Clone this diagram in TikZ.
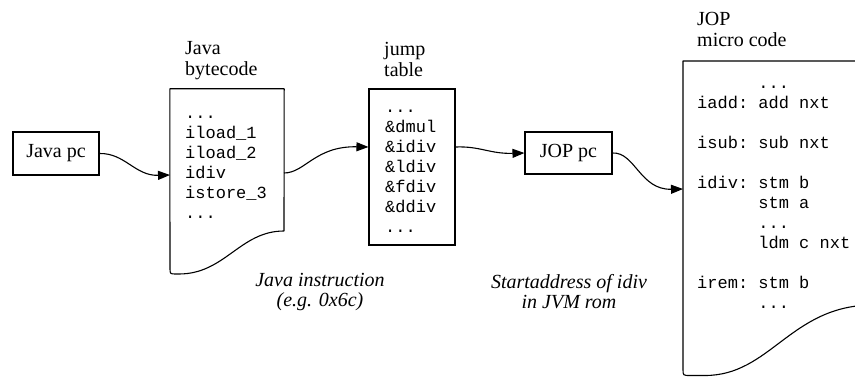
\documentclass[tikz,border=0pt]{standalone}
\usepackage{fontspec}
\setmainfont{Liberation Serif}
\setmonofont{Liberation Mono}
\usetikzlibrary{arrows.meta}
\tikzset{
  lw/.style={line width=1.1pt},
  lbl/.style={font=\fontsize{20}{21}\selectfont, align=left, inner sep=0pt, anchor=north west},
  code/.style={font=\ttfamily\fontsize{17}{20}\selectfont, align=left, inner sep=0pt, anchor=north west},
  pcbox/.style={draw, lw, inner sep=0pt, font=\fontsize{20}{24}\selectfont},
  shapebox/.style={draw=none, inner sep=0pt},
  conn/.style={lw, -{Triangle[length=12pt,width=9pt]}},
  ital/.style={font=\itshape\fontsize{20}{20}\selectfont, align=center, inner sep=0pt, anchor=north}
}
\newcommand{\ind}{\phantom{iadd:~}}
\begin{document}
\begin{tikzpicture}[x=1pt,y=-1pt]
\clip (0,0) rectangle (855,377);
% Java pc
\node[pcbox, minimum width=86pt, minimum height=43pt] (jpc) at (56,153.5) {Java pc};
% Java bytecode document
\node[shapebox, minimum width=114pt, minimum height=185pt] (bc) at (227,181.5) {};
\draw[lw, line join=round] (284,231) -- (bc.north east) -- (bc.north west) -- (170,268)
  .. controls (170,274) .. (176,274) -- (179,274)
  .. controls (225,274) and (240,231) .. (284,231);
\node[lbl] (bclbl) at (185,40) {\strut Java\\bytecode};
\node[code] (bctext) at (185,104) {\strut...\\iload\_1\\iload\_2\\idiv\\istore\_3\\...};
% jump table
\node[pcbox, minimum width=86pt, minimum height=156pt] (jt) at (412,167) {};
\node[lbl] (jtlbl) at (384,41) {\strut jump\\table};
\node[code] (jttext) at (385,98) {\strut...\\\&dmul\\\&idiv\\\&ldiv\\\&fdiv\\\&ddiv\\...};
% JOP pc
\node[pcbox, minimum width=87pt, minimum height=42pt] (jop) at (568.5,153) {JOP pc};
% JOP micro code document
\node[shapebox, minimum width=200pt, minimum height=316pt] (mc) at (783,219) {};
\draw[lw, line join=round] (900,61) -- (683,61) -- (683,369)
  .. controls (683,375.5) .. (690,375.5) -- (705,375.5)
  .. controls (770,375.5) and (790,307) .. (870,305);
\node[lbl] (mclbl) at (697,11) {\strut JOP\\micro code};
\node[code] (mctext) at (697,74) {\strut\ind...\\iadd: add nxt\\\mbox{}\\isub: sub nxt\\\mbox{}\\idiv: stm b\\\ind stm a\\\ind...\\\ind ldm c nxt\\\mbox{}\\irem: stm b\\\ind...};
% italic labels
\node[ital] (l1) at (320,272) {\strut Java instruction\\(e.g. 0x6c)};
\node[ital] (l2) at (569,274) {\strut Startaddress of idiv\\in JVM rom};
% connection points
\coordinate (bcin) at (170,175);
\coordinate (bcout) at (284,173);
\coordinate (jtin) at (jt.west |- 0,147);
\coordinate (jtout) at (jt.east |- 0,147);
\coordinate (mcin) at (683,189);
% connectors
\draw[conn] (jpc.east) .. controls (125,153) and (135,176) .. (bcin);
\draw[conn] (bcout) .. controls (305,173) and (315,146) .. (jtin);
\draw[conn] (jtout) .. controls (480,146) and (490,154) .. (jop.west);
\draw[conn] (jop.east) .. controls (635,152) and (640,190) .. (mcin);
\end{tikzpicture}
\end{document}
